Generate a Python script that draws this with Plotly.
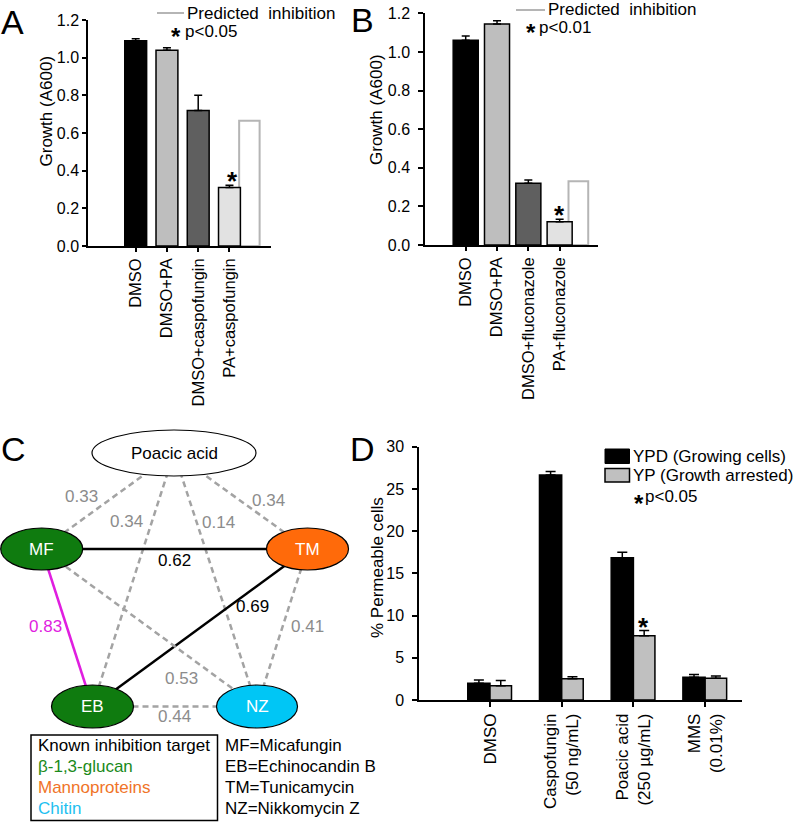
import plotly.graph_objects as go

W, H = 796, 822
FONT = "Liberation Sans, Arial, Helvetica, sans-serif"

# ---------------- data ----------------
# Panel A
a_categories = ["DMSO", "DMSO+PA", "DMSO+caspofungin", "PA+caspofungin"]
a_growth = [1.09, 1.04, 0.72, 0.31]
a_err = [0.01, 0.012, 0.08, 0.012]
a_predicted = 0.665

# Panel B
b_categories = ["DMSO", "DMSO+PA", "DMSO+fluconazole", "PA+fluconazole"]
b_growth = [1.06, 1.145, 0.32, 0.12]
b_err = [0.022, 0.016, 0.016, 0.014]
b_predicted = 0.33

# Panel C (network of drug interactions)
c_nodes = ["Poacic acid", "MF", "TM", "EB", "NZ"]
c_edges = [("Poacic acid", "MF", 0.33), ("Poacic acid", "EB", 0.34),
           ("Poacic acid", "NZ", 0.14), ("Poacic acid", "TM", 0.34),
           ("MF", "TM", 0.62), ("MF", "EB", 0.83), ("TM", "EB", 0.69),
           ("MF", "NZ", 0.53), ("TM", "NZ", 0.41), ("EB", "NZ", 0.44)]
c_target_labels = ["Known inhibition target", "β-1,3-glucan", "Mannoproteins", "Chitin"]
c_abbrev_labels = ["MF=Micafungin", "EB=Echinocandin B", "TM=Tunicamycin", "NZ=Nikkomycin Z"]

# Panel D
d_categories = ["DMSO", "Caspofungin<br>(50 ng/mL)", "Poacic acid<br>(250 µg/mL)", "MMS<br>(0.01%)"]
d_ypd = [1.98, 26.66, 16.86, 2.69]
d_ypd_err = [0.4, 0.4, 0.64, 0.32]
d_yp = [1.7, 2.53, 7.62, 2.57]
d_yp_err = [0.6, 0.23, 0.6, 0.27]

# ---------------- helpers ----------------
def px(x):
    return x / W


def py(y):
    return 1 - y / H


fig = go.Figure()

# ---------------- Panel A ----------------
fig.add_trace(go.Bar(x=[a_categories[3]], y=[a_predicted], offset=0.31, width=0.655,
                     marker=dict(color="white", line=dict(color="#b5b5b5", width=2)),
                     xaxis="x", yaxis="y", hoverinfo="skip"))
fig.add_trace(go.Bar(x=a_categories, y=a_growth, width=0.70,
                     marker=dict(color=["#000000", "#bebebe", "#5f5f5f", "#e2e2e2"],
                                 line=dict(color="black", width=1.5)),
                     error_y=dict(type="data", array=a_err, arrayminus=[0] * 4, symmetric=False,
                                  color="black", thickness=1.5, width=4),
                     xaxis="x", yaxis="y"))

# ---------------- Panel B ----------------
fig.add_trace(go.Bar(x=[b_categories[3]], y=[b_predicted], offset=0.283, width=0.63,
                     marker=dict(color="white", line=dict(color="#b5b5b5", width=2)),
                     xaxis="x2", yaxis="y2", hoverinfo="skip"))
fig.add_trace(go.Bar(x=b_categories, y=b_growth, width=0.80,
                     marker=dict(color=["#000000", "#bebebe", "#5f5f5f", "#e2e2e2"],
                                 line=dict(color="black", width=1.5)),
                     error_y=dict(type="data", array=b_err, arrayminus=[0] * 4, symmetric=False,
                                  color="black", thickness=1.5, width=4),
                     xaxis="x2", yaxis="y2"))

# ---------------- Panel D ----------------
fig.add_trace(go.Bar(x=d_categories, y=d_ypd, offset=-0.31, width=0.31,
                     marker=dict(color="#000000", line=dict(color="black", width=1.5)),
                     error_y=dict(type="data", array=d_ypd_err, arrayminus=[0] * 4, symmetric=False,
                                  color="black", thickness=1.5, width=5),
                     xaxis="x4", yaxis="y4", name="YPD (Growing cells)"))
fig.add_trace(go.Bar(x=d_categories, y=d_yp, offset=0.0, width=0.30,
                     marker=dict(color="#c0c0c0", line=dict(color="black", width=1.5)),
                     error_y=dict(type="data", array=d_yp_err, arrayminus=[0] * 4, symmetric=False,
                                  color="black", thickness=1.5, width=5),
                     xaxis="x4", yaxis="y4", name="YP (Growth arrested)"))

# ---------------- Panel C ----------------
node_pos = {"Poacic acid": (174, 453), "MF": (41.7, 549), "TM": (307.5, 549),
            "EB": (92.5, 706.5), "NZ": (257, 706.5)}
node_size = {"Poacic acid": (82, 23), "MF": (41, 21), "TM": (41, 21), "EB": (41, 21.5), "NZ": (40.5, 21.5)}
node_fill = {"Poacic acid": "white", "MF": "#0f7b0f", "TM": "#ff6a0a", "EB": "#0f7b0f", "NZ": "#00c6f5"}
label_pos = {("Poacic acid", "MF"): (81.7, 496.5), ("Poacic acid", "EB"): (126.7, 521.5),
             ("Poacic acid", "NZ"): (218, 522.5), ("Poacic acid", "TM"): (268.5, 500),
             ("MF", "TM"): (174, 560.5), ("MF", "EB"): (45, 626.5), ("TM", "EB"): (252.5, 606.5),
             ("MF", "NZ"): (181, 678.5), ("TM", "NZ"): (307.5, 626.5), ("EB", "NZ"): (174, 716.5)}


def edge_style(a, b):
    if (a, b) == ("MF", "EB"):
        return dict(color="#e01ee0", width=2.5), "#e01ee0"
    if (a, b) in [("MF", "TM"), ("TM", "EB")]:
        return dict(color="black", width=2.5), "black"
    return dict(color="#a3a3a3", width=2.5, dash="6px,4px"), "#8c8c8c"


annotations = []
shapes = []
for a, b, w in c_edges:
    ls, tc = edge_style(a, b)
    xa, ya = node_pos[a]
    xb, yb = node_pos[b]
    fig.add_trace(go.Scatter(x=[xa, xb], y=[ya, yb], mode="lines", line=ls,
                             xaxis="x3", yaxis="y3", hoverinfo="skip"))
    lx, ly = label_pos[(a, b)]
    annotations.append(dict(x=lx, y=ly, xref="x3", yref="y3", text=f"{w:.2f}", showarrow=False,
                            font=dict(family=FONT, size=17, color=tc), xanchor="center", yanchor="middle"))

for n in c_nodes:
    cx, cy = node_pos[n]
    rx, ry = node_size[n]
    shapes.append(dict(type="circle", xref="x3", yref="y3", x0=cx - rx, x1=cx + rx, y0=cy - ry, y1=cy + ry,
                       fillcolor=node_fill[n], line=dict(color="black", width=1.2), layer="above"))
    annotations.append(dict(x=cx, y=cy, xref="x3", yref="y3", text=n, showarrow=False,
                            font=dict(family=FONT, size=17, color="black" if n == "Poacic acid" else "white"),
                            xanchor="center", yanchor="middle"))

# legend box of panel C
shapes.append(dict(type="rect", xref="paper", yref="paper", x0=px(31), x1=px(217.5), y0=py(820.5), y1=py(735),
                   line=dict(color="black", width=1.5), fillcolor="rgba(0,0,0,0)"))
target_colors = ["black", "#1a8a1a", "#f07428", "#1ec0f0"]
row_y = [745.5, 766.5, 787.5, 808.5]
for i in range(4):
    annotations.append(dict(x=px(36), y=py(row_y[i]), xref="paper", yref="paper", text=c_target_labels[i],
                            showarrow=False, xanchor="left", yanchor="middle",
                            font=dict(family=FONT, size=17, color=target_colors[i])))
    annotations.append(dict(x=px(223), y=py(row_y[i]), xref="paper", yref="paper", text=c_abbrev_labels[i],
                            showarrow=False, xanchor="left", yanchor="middle",
                            font=dict(family=FONT, size=17, color="black")))

# ---------------- legends / labels for A, B, D ----------------
def txt(x, y, s, size=17, anchor="left", color="black", angle=0):
    annotations.append(dict(x=px(x), y=py(y), xref="paper", yref="paper", text=s, showarrow=False,
                            xanchor=anchor, yanchor="middle", textangle=angle,
                            font=dict(family=FONT, size=size, color=color)))


def star(x, y, size=22, xref="paper", yref="paper", yshift=0, xshift=0):
    annotations.append(dict(x=x, y=y, xref=xref, yref=yref, text="<b>*</b>", showarrow=False,
                            xanchor="center", yanchor="middle", yshift=yshift, xshift=xshift,
                            font=dict(family=FONT, size=size, color="black")))


# panel letters
txt(-1, 22, "A", size=34)
txt(349, 20, "B", size=34)
txt(-1, 449, "C", size=34)
txt(348, 449, "D", size=34)

# y titles
txt(45.5, 111, "Growth (A600)", size=17, anchor="center", angle=-90)
txt(377, 110, "Growth (A600)", size=17, anchor="center", angle=-90)
txt(377, 568, "% Permeable cells", size=17, anchor="center", angle=-90)

# A legend
shapes.append(dict(type="line", xref="paper", yref="paper", x0=px(157), x1=px(184), y0=py(13), y1=py(13),
                   line=dict(color="#b5b5b5", width=2)))
txt(185, 13, "Predicted&nbsp; inhibition")
star(px(176), py(32), size=24, yshift=-5)
txt(182.5, 31.5, "p<0.05")

# B legend
shapes.append(dict(type="line", xref="paper", yref="paper", x0=px(516), x1=px(545), y0=py(10), y1=py(10),
                   line=dict(color="#b5b5b5", width=2)))
txt(546, 10, "Predicted&nbsp; inhibition")
star(px(531), py(28), size=24, yshift=-5)
txt(536.5, 27, "p<0.01")

# D legend
shapes.append(dict(type="rect", xref="paper", yref="paper", x0=px(605), x1=px(629.5), y0=py(463.5), y1=py(449),
                   fillcolor="black", line=dict(color="black", width=1)))
shapes.append(dict(type="rect", xref="paper", yref="paper", x0=px(605), x1=px(629.5), y0=py(482), y1=py(468.5),
                   fillcolor="#c0c0c0", line=dict(color="black", width=1.5)))
txt(630.5, 456, "YPD (Growing cells)")
txt(630.5, 475.5, "YP (Growth arrested)")
star(px(639), py(498), size=24, yshift=-5)
txt(643, 496, "p<0.05")

# significance stars above bars
star(a_categories[3], a_growth[3] + a_err[3], size=26, xref="x", yref="y", yshift=4, xshift=3)
star(b_categories[3], b_growth[3] + b_err[3], size=26, xref="x2", yref="y2", yshift=4)
star(d_categories[2], d_yp[2] + d_yp_err[2], size=26, xref="x4", yref="y4", yshift=4, xshift=10.5)

# ---------------- axes ----------------
axis_common = dict(showline=True, linecolor="black", linewidth=1.5, ticks="outside", tickcolor="black",
                   tickwidth=1.5, showgrid=False, zeroline=False, fixedrange=True,
                   tickfont=dict(family=FONT, size=16, color="black"))
xcat_font_ab = dict(family=FONT, size=16.5, color="black")
xcat_font_d = dict(family=FONT, size=17, color="black")

fig.update_layout(
    xaxis=dict(axis_common, domain=[px(88), px(271)], range=[-1.526, 4.329], ticklen=4, tickangle=-90,
               tickfont=xcat_font_ab, anchor="y",
               categoryorder="array", categoryarray=a_categories),
    yaxis=dict(axis_common, domain=[py(246), py(20)], range=[0, 1.2], ticklen=4, anchor="x",
               tickvals=[0, 0.2, 0.4, 0.6, 0.8, 1.0, 1.2], ticktext=["0.0", "0.2", "0.4", "0.6", "0.8", "1.0", "1.2"]),
    xaxis2=dict(axis_common, domain=[px(425), px(598)], range=[-1.30, 4.225], ticklen=4, tickangle=-90,
                tickfont=xcat_font_ab, anchor="y2",
                categoryorder="array", categoryarray=b_categories),
    yaxis2=dict(axis_common, domain=[py(245), py(13.3)], range=[0, 1.2], ticklen=5, anchor="x2",
                ticklabelstandoff=5,
                tickvals=[0, 0.2, 0.4, 0.6, 0.8, 1.0, 1.2], ticktext=["0.0", "0.2", "0.4", "0.6", "0.8", "1.0", "1.2"]),
    xaxis3=dict(domain=[0, px(400)], range=[0, 400], visible=False, fixedrange=True, anchor="y3"),
    yaxis3=dict(domain=[0, py(400)], range=[822, 400], visible=False, fixedrange=True, anchor="x3"),
    xaxis4=dict(axis_common, domain=[px(419), px(741.7)], range=[-0.99, 3.51], ticklen=5, tickangle=-90,
                tickfont=xcat_font_d, anchor="y4",
                categoryorder="array", categoryarray=d_categories),
    yaxis4=dict(axis_common, domain=[py(700), py(446.7)], range=[0, 30], ticklen=5, anchor="x4",
                ticklabelstandoff=5, tickvals=[0, 5, 10, 15, 20, 25, 30]),
    barmode="overlay",
    showlegend=False,
    width=W, height=H, autosize=False,
    margin=dict(l=0, r=0, t=0, b=0, pad=0, autoexpand=False),
    paper_bgcolor="white", plot_bgcolor="white",
    font=dict(family=FONT, size=16, color="black"),
    annotations=annotations,
    shapes=shapes,
)

fig.write_html(
    "out.html",
    config={"responsive": False, "displayModeBar": False},
    post_script="document.body.style.margin='0';document.body.style.padding='0';"
                "document.documentElement.style.overflow='hidden';",
)
